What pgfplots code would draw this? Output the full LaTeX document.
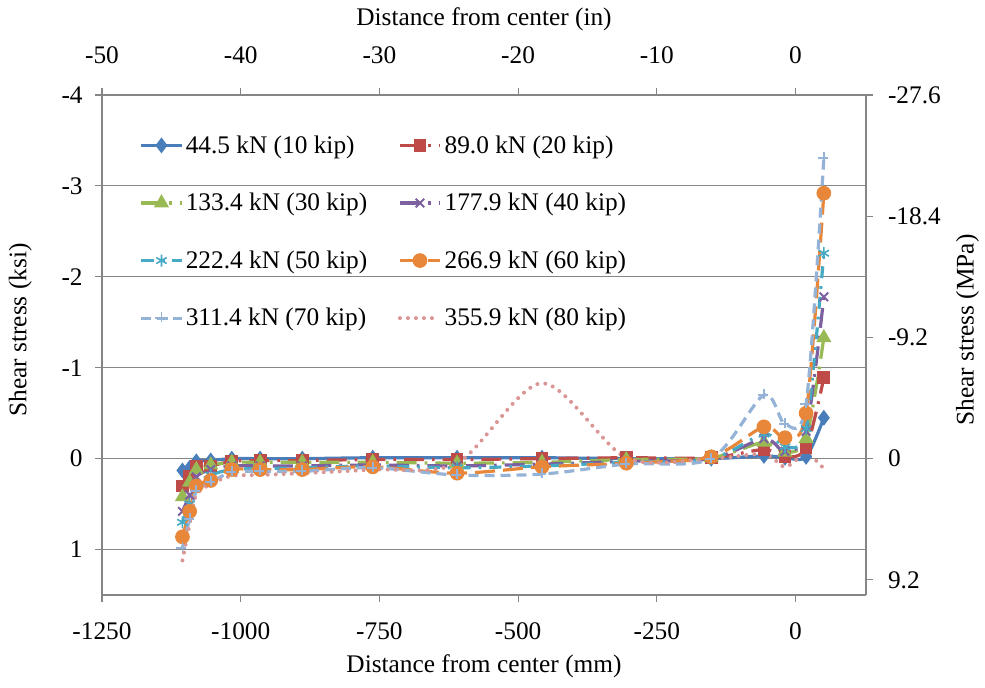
\documentclass[border=0pt]{standalone}
\usepackage{fontspec}
\setmainfont{Liberation Serif}
\usepackage{pgfplots}
\usepackage{pgfplotstable}
\pgfplotsset{compat=1.18}
\definecolor{axgray}{HTML}{868686}
\definecolor{c1}{HTML}{4A7EBB}
\definecolor{c2}{HTML}{BE4B48}
\definecolor{c3}{HTML}{98B954}
\definecolor{c4}{HTML}{7D60A0}
\definecolor{c5}{HTML}{46AAC5}
\definecolor{c6}{HTML}{E8873A}
\definecolor{c7}{HTML}{95B3D7}
\definecolor{c8}{HTML}{D99694}
\pgfplotstableread{
x s1 s2 s3 s4 s5 s6 s7 s8
-1105 0.13 0.30 0.42 0.58 0.70 0.86 0.98 1.12
-1092 0.10 0.19 0.26 0.40 0.50 0.58 0.66 0.72
-1080 0.03 0.09 0.12 0.20 0.28 0.30 0.36 0.40
-1054 0.02 0.08 0.07 0.12 0.18 0.24 0.26 0.28
-1016 0.00 0.03 0.04 0.08 0.12 0.12 0.15 0.19
-965 0.00 0.02 0.04 0.08 0.11 0.12 0.14 0.18
-889 0.00 0.02 0.04 0.08 0.10 0.12 0.14 0.16
-762 -0.01 0.01 0.04 0.07 0.08 0.09 0.10 0.12
-610 -0.01 0.01 0.05 0.08 0.10 0.16 0.18 0.05
-457 -0.01 0.00 0.04 0.06 0.08 0.09 0.17 -0.83
-305 0.00 -0.01 0.01 0.03 0.04 0.05 0.06 -0.01
-152 0.00 -0.01 -0.01 0.00 0.00 -0.02 0.00 0.00
-57 -0.03 -0.10 -0.18 -0.22 -0.27 -0.35 -0.70 -0.05
-19 -0.01 -0.02 -0.07 -0.08 -0.13 -0.23 -0.38 0.09
19 -0.02 -0.12 -0.22 -0.30 -0.33 -0.50 -0.60 -0.05
51 -0.45 -0.89 -1.33 -1.78 -2.26 -2.92 -3.31 0.11
}\datatable
\newcommand{\fs}{\fontsize{19}{23}\selectfont}
\begin{document}
\begin{tikzpicture}
\pgfplotsset{
  common/.style={
    at={(0pt,0pt)}, anchor=south west,
    scale only axis, width=573pt, height=375pt,
    xmin=-1250, xmax=127, ymin=-4, ymax=1.5, y dir=reverse,
    tick align=outside, major tick length=5pt,
    axis line style={color=axgray, line width=0.8pt},
    tick style={color=axgray, line width=0.8pt},
    ticklabel style={font=\fs, text=black},
    label style={font=\fs},
    clip=false,
  },
  sline/.style={line width=2.4pt, smooth, tension=0.5, mark options={solid}},
}
\begin{axis}[common,
  axis x line*=bottom, axis y line*=left,
  xtick={-1250,-1000,-750,-500,-250,0},
  xticklabels={-1250,-1000,-750,-500,-250,0},
  ytick={-4,-3,-2,-1,0,1},
  yticklabels={-4,-3,-2,-1,0,1},
  ymajorgrids, grid style={color=axgray, line width=0.8pt},
  xticklabel style={anchor=center, yshift=-22.5pt},
  yticklabel style={anchor=east, xshift=-6pt},
  xlabel={Distance from center (mm)},
  ylabel={Shear stress (ksi)},
  xlabel style={at={(axis description cs:0.5,-0.142)}, anchor=center},
  ylabel style={at={(axis description cs:-0.107,0.53)}, anchor=center},
  legend columns=2,
  legend cell align=left,
  legend image code/.code={\draw[mark repeat=2,mark phase=2] plot coordinates {(0pt,0pt) (15pt,0pt) (30pt,0pt)};},
  legend style={at={(axis description cs:0.044,0.93)}, anchor=north west,
    draw=none, fill=none, font=\fs, row sep=24.5pt,
    /tikz/every even column/.append style={column sep=21pt}},
]
\addplot[sline, color=c1, mark=diamond*, mark size=4pt] table[x=x,y=s1]{\datatable};
\addlegendentry{44.5 kN (10 kip)}
\addplot[sline, color=c2, mark=square*, mark size=3.6pt, dash pattern=on 15pt off 6pt on 2pt off 6pt] table[x=x,y=s2]{\datatable};
\addlegendentry{89.0 kN (20 kip)}
\addplot[sline, color=c3, mark=triangle*, mark size=4.2pt, dash pattern=on 15pt off 6pt on 2pt off 6pt] table[x=x,y=s3]{\datatable};
\addlegendentry{133.4 kN (30 kip)}
\addplot[sline, color=c4, mark=x, mark size=4.5pt, mark options={line width=1.5pt}, dash pattern=on 15pt off 6pt on 2pt off 6pt] table[x=x,y=s4]{\datatable};
\addlegendentry{177.9 kN (40 kip)}
\addplot[sline, color=c5, mark=asterisk, mark size=4.5pt, mark options={line width=1.2pt}, dash pattern=on 9pt off 6pt on 2pt off 6pt] table[x=x,y=s5]{\datatable};
\addlegendentry{222.4 kN (50 kip)}
\addplot[sline, color=c6, mark=*, mark size=4.3pt, dash pattern=on 15pt off 6pt] table[x=x,y=s6]{\datatable};
\addlegendentry{266.9 kN (60 kip)}
\addplot[sline, color=c7, mark=+, mark size=4.5pt, mark options={line width=1.4pt}, dash pattern=on 7.5pt off 4.5pt] table[x=x,y=s7]{\datatable};
\addlegendentry{311.4 kN (70 kip)}
\addplot[sline, color=c8, line width=3pt, line cap=round, mark=-, mark size=4pt, mark options={line width=3.5pt, line cap=butt}, dash pattern=on 0pt off 6pt] table[x=x,y=s8]{\datatable};
\addlegendentry{355.9 kN (80 kip)}
\end{axis}
\begin{axis}[common,
  axis x line*=top, axis y line*=right,
  xtick={-1250,-1000,-750,-500,-250,0},
  xticklabels={-50,-40,-30,-20,-10,0},
  ytick={-4,-2.666667,-1.333333,0,1.333333},
  yticklabels={-27.6,-18.4,-9.2,0,9.2},
  xticklabel style={anchor=center, yshift=24.5pt},
  yticklabel style={anchor=west, xshift=8pt},
  xlabel={Distance from center (in)},
  ylabel={Shear stress (MPa)},
  xlabel style={at={(axis description cs:0.5,1.152)}, anchor=center},
  ylabel style={at={(axis description cs:1.133,0.53)}, anchor=center},
]
\end{axis}
\pgfresetboundingbox
\useasboundingbox (-76.5pt,-69.75pt) rectangle (662.25pt,446.25pt);
\end{tikzpicture}
\end{document}
